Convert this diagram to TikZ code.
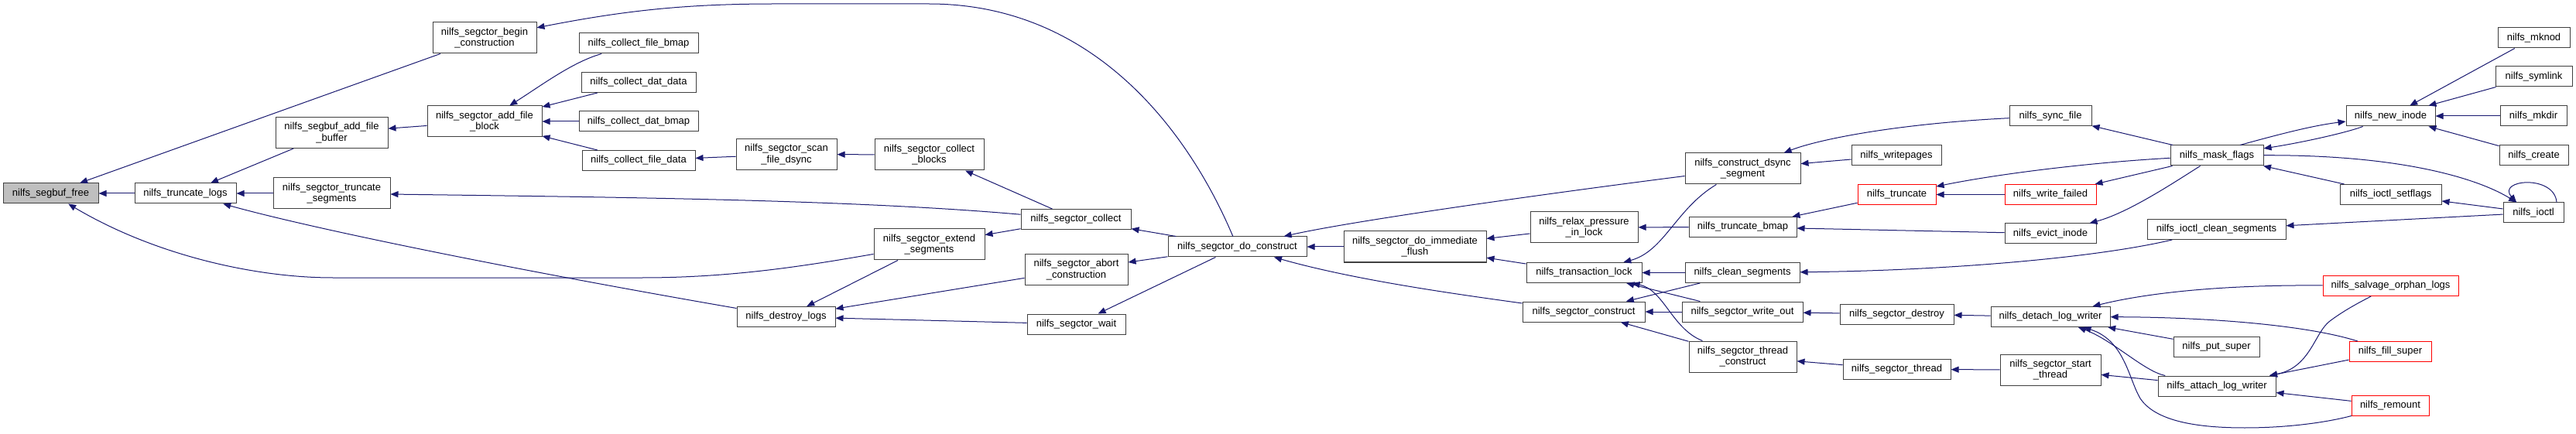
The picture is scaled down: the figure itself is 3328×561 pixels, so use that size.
\documentclass[tikz,border=0pt]{standalone}
\usepackage{fontspec}
\setmainfont{Liberation Sans}
\usetikzlibrary{arrows.meta}
\definecolor{edgeblue}{RGB}{25,25,112}
\definecolor{boxline}{RGB}{64,64,64}
\definecolor{rootfill}{RGB}{191,191,191}
\begin{document}
\begin{tikzpicture}[x=1pt,y=-1pt]
\tikzset{
 fn/.style={draw=boxline, fill=white, line width=1pt, inner sep=0pt, align=center,
   font=\fontsize{13}{14.6}\selectfont, minimum height=26pt},
 fn2/.style={fn, minimum height=40pt},
 root/.style={fill=rootfill},
 trunc/.style={draw=red},
 calls/.style={draw=edgeblue, line width=1pt, {Triangle[length=10pt,width=8pt]}-},
}
\useasboundingbox[fill=white] (0,0) rectangle (3328,561);

\node[fn,root,minimum width=123pt] (sbf) at (65.5,250) {nilfs\_segbuf\_free};
\node[fn,minimum width=131pt] (tlogs) at (239.5,250) {nilfs\_truncate\_logs};
\node[fn2,minimum width=145pt] (afbuf) at (428.5,171.5) {nilfs\_segbuf\_add\_file\\\_buffer};
\node[fn2,minimum width=151pt] (tseg) at (428.5,250) {nilfs\_segctor\_truncate\\\_segments};
\node[fn2,minimum width=134pt] (begin) at (626,49) {nilfs\_segctor\_begin\\\_construction};
\node[fn2,minimum width=148pt] (afblock) at (626,157) {nilfs\_segctor\_add\_file\\\_block};
\node[fn,minimum width=154pt] (cfbmap) at (825,56) {nilfs\_collect\_file\_bmap};
\node[fn,minimum width=148pt] (cddata) at (825,106.5) {nilfs\_collect\_dat\_data};
\node[fn,minimum width=154pt] (cdbmap) at (825,157) {nilfs\_collect\_dat\_bmap};
\node[fn,minimum width=146pt] (cfdata) at (825,207.5) {nilfs\_collect\_file\_data};
\node[fn2,minimum width=130pt] (scan) at (1016,199.5) {nilfs\_segctor\_scan\\\_file\_dsync};
\node[fn,minimum width=127pt] (dlogs) at (1015.5,409.5) {nilfs\_destroy\_logs};
\node[fn2,minimum width=141pt] (cblocks) at (1200.5,200) {nilfs\_segctor\_collect\\\_blocks};
\node[fn2,minimum width=143pt] (extend) at (1200.5,316) {nilfs\_segctor\_extend\\\_segments};
\node[fn,minimum width=142pt] (collect) at (1390,283.5) {nilfs\_segctor\_collect};
\node[fn2,minimum width=133pt] (abort) at (1390.5,348.5) {nilfs\_segctor\_abort\\\_construction};
\node[fn,minimum width=127pt] (wait) at (1390.5,419) {nilfs\_segctor\_wait};
\node[fn,minimum width=179pt] (doc) at (1598.5,319) {nilfs\_segctor\_do\_construct};
\node[fn2,minimum width=184pt] (dif) at (1828,319) {nilfs\_segctor\_do\_immediate\\\_flush};
\node[fn2,minimum width=139pt] (relax) at (2046.5,294) {nilfs\_relax\_pressure\\\_in\_lock};
\node[fn,minimum width=149pt] (tlock) at (2046.5,352.5) {nilfs\_transaction\_lock};
\node[fn,minimum width=158pt] (sconstruct) at (2046,403) {nilfs\_segctor\_construct};
\node[fn2,minimum width=149pt] (cdsync) at (2251.5,218) {nilfs\_construct\_dsync\\\_segment};
\node[fn,minimum width=116pt] (writepages) at (2450,201) {nilfs\_writepages};
\node[fn,trunc,minimum width=101pt] (truncate) at (2450.5,251.5) {nilfs\_truncate};
\node[fn,minimum width=139pt] (tbmap) at (2251.5,293.5) {nilfs\_truncate\_bmap};
\node[fn,minimum width=148pt] (cleanseg) at (2251,352.5) {nilfs\_clean\_segments};
\node[fn,minimum width=156pt] (writeout) at (2251,403) {nilfs\_segctor\_write\_out};
\node[fn2,minimum width=139pt] (tconstruct) at (2251.5,461) {nilfs\_segctor\_thread\\\_construct};
\node[fn,minimum width=106pt] (syncfile) at (2649,150) {nilfs\_sync\_file};
\node[fn,trunc,minimum width=118pt] (wfailed) at (2649,251.5) {nilfs\_write\_failed};
\node[fn,minimum width=118pt] (evict) at (2649,302) {nilfs\_evict\_inode};
\node[fn,minimum width=147pt] (sdestroy) at (2450.5,406) {nilfs\_segctor\_destroy};
\node[fn,minimum width=139pt] (sthread) at (2450.5,477.5) {nilfs\_segctor\_thread};
\node[fn,minimum width=154pt] (detach) at (2649,409.5) {nilfs\_detach\_log\_writer};
\node[fn2,minimum width=130pt] (startth) at (2649,478) {nilfs\_segctor\_start\\\_thread};
\node[fn,minimum width=120pt] (mask) at (2864,201) {nilfs\_mask\_flags};
\node[fn,minimum width=179pt] (iocs) at (2863.5,296.5) {nilfs\_ioctl\_clean\_segments};
\node[fn,minimum width=111pt] (putsuper) at (2863.5,448.5) {nilfs\_put\_super};
\node[fn,minimum width=152pt] (attach) at (2864,499) {nilfs\_attach\_log\_writer};
\node[fn,minimum width=115pt] (newinode) at (3088.5,150) {nilfs\_new\_inode};
\node[fn,minimum width=131pt] (setflags) at (3088.5,251.5) {nilfs\_ioctl\_setflags};
\node[fn,trunc,minimum width=175pt] (salvage) at (3088.5,369.5) {nilfs\_salvage\_orphan\_logs};
\node[fn,trunc,minimum width=106pt] (fillsuper) at (3088,454.5) {nilfs\_fill\_super};
\node[fn,trunc,minimum width=100pt] (remount) at (3088,524) {nilfs\_remount};
\node[fn,minimum width=93pt] (mknod) at (3273.5,49) {nilfs\_mknod};
\node[fn,minimum width=99pt] (symlink) at (3273.5,99) {nilfs\_symlink};
\node[fn,minimum width=86pt] (mkdir) at (3273,150) {nilfs\_mkdir};
\node[fn,minimum width=89pt] (create) at (3273.5,201) {nilfs\_create};
\node[fn,minimum width=78pt] (ioctl) at (3273,275) {nilfs\_ioctl};

% edges (arrow tip at the called function)
\draw[calls] (sbf) -- (tlogs);
\draw[calls] (sbf) -- (begin);
\draw[calls] (sbf) .. controls (200,330) and (330,359) .. (430,359) -- (830,359) .. controls (950,359) and (1050,342) .. (extend);
\draw[calls] (tlogs) -- (afbuf);
\draw[calls] (tlogs) -- (tseg);
\draw[calls] (tlogs) .. controls (420,300) and (700,355) .. (dlogs);
\draw[calls] (afbuf) -- (afblock);
\draw[calls] (tseg) .. controls (800,255) and (1100,258) .. (collect);
\draw[calls] (begin) .. controls (800,15) and (880,5) .. (1000,5) -- (1200,5) .. controls (1420,5) and (1540,180) .. (doc);
\draw[calls] (afblock) .. controls (700,110) and (740,80) .. (cfbmap);
\draw[calls] (afblock) -- (cddata);
\draw[calls] (afblock) -- (cdbmap);
\draw[calls] (afblock) -- (cfdata);
\draw[calls] (cfdata) -- (scan);
\draw[calls] (scan) -- (cblocks);
\draw[calls] (dlogs) -- (extend);
\draw[calls] (dlogs) -- (abort);
\draw[calls] (dlogs) -- (wait);
\draw[calls] (cblocks) -- (collect);
\draw[calls] (extend) -- (collect);
\draw[calls] (collect) -- (doc);
\draw[calls] (abort) -- (doc);
\draw[calls] (wait) -- (doc);
\draw[calls] (doc) -- (dif);
\draw[calls] (doc) .. controls (1750,285) and (2000,250) .. (cdsync);
\draw[calls] (doc) .. controls (1750,362) and (1880,380) .. (sconstruct);
\draw[calls] (dif) -- (relax);
\draw[calls] (dif) -- (tlock);
\draw[calls] (tlock) .. controls (2150,325) and (2165,270) .. (cdsync);
\draw[calls] (relax) -- (tbmap);
\draw[calls] (tlock) -- (cleanseg);
\draw[calls] (tlock) -- (writeout);
\draw[calls] (tlock) .. controls (2150,375) and (2160,425) .. (tconstruct);
\draw[calls] (sconstruct) -- (cleanseg);
\draw[calls] (sconstruct) -- (writeout);
\draw[calls] (sconstruct) -- (tconstruct);
\draw[calls] (cdsync) .. controls (2350,180) and (2450,160) .. (syncfile);
\draw[calls] (cdsync) -- (writepages);
\draw[calls] (tbmap) -- (truncate);
\draw[calls] (tbmap) -- (evict);
\draw[calls] (truncate) -- (wfailed);
\draw[calls] (truncate) .. controls (2580,225) and (2700,210) .. (mask);
\draw[calls] (wfailed) -- (mask);
\draw[calls] (evict) .. controls (2750,275) and (2810,235) .. (mask);
\draw[calls] (syncfile) -- (mask);
\draw[calls] (cleanseg) .. controls (2500,350) and (2700,335) .. (iocs);
\draw[calls] (writeout) -- (sdestroy);
\draw[calls] (sdestroy) -- (detach);
\draw[calls] (tconstruct) -- (sthread);
\draw[calls] (sthread) -- (startth);
\draw[calls] (startth) -- (attach);
\draw[calls] (detach) .. controls (2760,382) and (2850,368) .. (salvage);
\draw[calls] (detach) .. controls (2850,410) and (2980,420) .. (fillsuper);
\draw[calls] (detach) -- (putsuper);
\draw[calls] (detach) .. controls (2730,440) and (2770,480) .. (attach);
\draw[calls] (detach) .. controls (2745,440) and (2750,490) .. (2765,515) .. controls (2785,545) and (2840,553) .. (2900,553) .. controls (2960,553) and (3010,545) .. (remount);
\draw[calls] (attach) .. controls (2985,475) and (2990,430) .. (3010,415) .. controls (3030,400) and (3050,390) .. (salvage);
\draw[calls] (attach) -- (fillsuper);
\draw[calls] (attach) -- (remount);
\draw[calls] (newinode) .. controls (2990,162) and (2950,172) .. ([xshift=30pt]mask.north);
\draw[calls] (mask) .. controls (2970,185) and (3030,172) .. (newinode);
\draw[calls] (newinode) -- (mknod);
\draw[calls] (newinode) -- (symlink);
\draw[calls] (newinode) -- (mkdir);
\draw[calls] (newinode) -- (create);
\draw[calls] (mask) -- (setflags);
\draw[calls] (setflags) -- (ioctl);
\draw[calls] (iocs) -- (ioctl);
\draw[calls] (ioctl) .. controls (3200,230) and (3100,200) .. (mask);
\draw[calls] ([xshift=-22pt]ioctl.north) .. controls (3225,232) and (3300,225) .. ([xshift=30pt]ioctl.north);
\end{tikzpicture}
\end{document}
